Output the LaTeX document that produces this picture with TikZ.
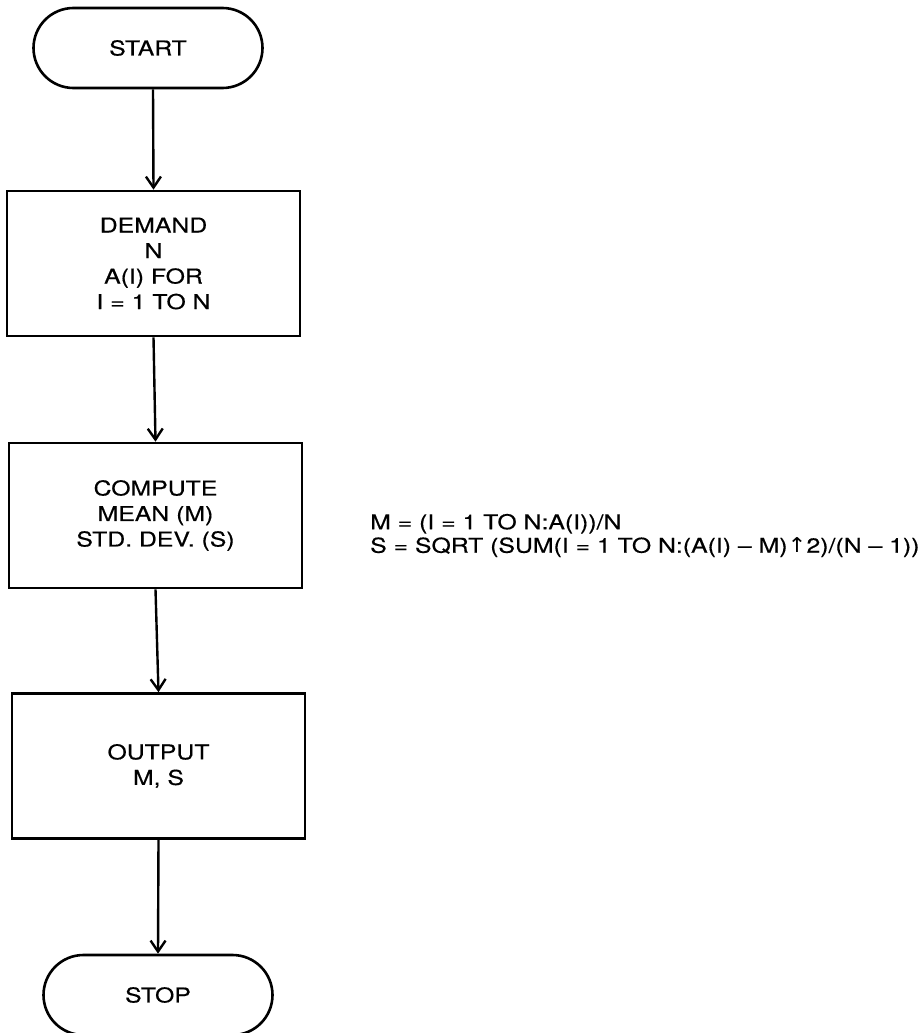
\documentclass[tikz,border=0pt]{standalone}
\usepackage{fontspec}
\setmainfont{TeX Gyre Heros}[FakeStretch=1.21,FakeBold=0.4]
\newfontfamily\symfont{DejaVu Sans}[FakeStretch=1.1]
\usetikzlibrary{arrows.meta}
\begin{document}
\begin{tikzpicture}[x=1pt,y=-1pt,
  every node/.style={font=\fontsize{20.5}{25.5}\selectfont, inner sep=0pt},
  term/.style={draw, line width=2.6pt, rounded corners=40pt, minimum width=229pt, minimum height=80pt},
  proc/.style={draw, line width=2.6pt, minimum width=293pt, minimum height=145pt, align=center},
  arr/.style={line width=2.4pt, -{Straight Barb[length=11pt,width=15pt,line width=2.4pt]}}]
\useasboundingbox (0,0) rectangle (922,1033);
\node[term] (start) at (148,48) {START};
\node[proc] (demand) at (153.5,263.5) {DEMAND\\N\\A(I) FOR\\I = 1 TO N};
\node[proc] (compute) at (155.5,515.5) {COMPUTE\\MEAN (M)\\STD. DEV. (S)};
\node[proc] (output) at (158.5,766) {OUTPUT\\M, S};
\node[term] (stop) at (158,995) {STOP};
\node[anchor=west, align=left, font=\fontsize{20.5}{23.5}\selectfont] (formula) at (370,535.5) {M = (I = 1 TO N:A(I))/N\\S = SQRT (SUM(I = 1 TO N:(A(I) -- M){\symfont ↑}2)/(N -- 1))};
\draw[arr] (start.south -| 153,0) -- (demand.north);
\draw[arr] (demand.south) -- (compute.north);
\draw[arr] (compute.south) -- (output.north);
\draw[arr] (output.south) -- (stop.north);
\end{tikzpicture}
\end{document}
